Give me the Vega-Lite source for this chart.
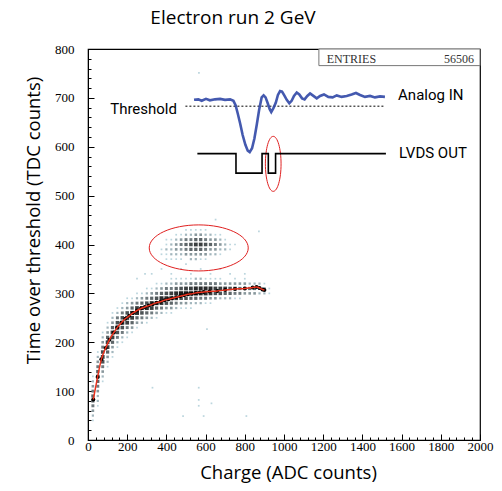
{
  "$schema": "https://vega.github.io/schema/vega-lite/v6.json",
  "width": 392,
  "height": 391,
  "autosize": {"type": "none"},
  "padding": {"left": 88, "top": 49, "right": 22, "bottom": 51},
  "background": "white",
  "title": {"text": "Electron run 2 GeV", "font": "Open Sans", "fontSize": 19, "fontWeight": "normal", "color": "black", "anchor": "middle", "frame": "group", "dx": -51, "offset": 15},
  "config": {
    "view": {"stroke": "black", "strokeWidth": 1.2},
    "axis": {"labelFont": "Liberation Serif, Times New Roman, serif", "labelFontSize": 13, "labelColor": "black", "titleFont": "Open Sans", "titleFontSize": 18.5, "titleFontWeight": "normal", "titleColor": "black", "domainColor": "black", "tickColor": "black", "grid": false, "labelFlush": false, "labelOverlap": false}
  },
  "datasets": {
    "dens": [
      {"x":25,"y":40,"n":1},{"x":25,"y":50,"n":2},{"x":25,"y":60,"n":3},{"x":25,"y":70,"n":4},{"x":25,"y":80,"n":5},{"x":25,"y":90,"n":5},{"x":25,"y":100,"n":4},{"x":25,"y":110,"n":3},{"x":25,"y":120,"n":2},{"x":25,"y":130,"n":1},
      {"x":50,"y":70,"n":1},{"x":50,"y":80,"n":2},{"x":50,"y":90,"n":2},{"x":50,"y":100,"n":3},{"x":50,"y":110,"n":4},{"x":50,"y":120,"n":5},{"x":50,"y":130,"n":6},{"x":50,"y":140,"n":5},{"x":50,"y":150,"n":4},{"x":50,"y":160,"n":3},{"x":50,"y":170,"n":2},{"x":50,"y":180,"n":1},
      {"x":75,"y":120,"n":1},{"x":75,"y":130,"n":2},{"x":75,"y":140,"n":3},{"x":75,"y":150,"n":4},{"x":75,"y":160,"n":6},{"x":75,"y":170,"n":7},{"x":75,"y":180,"n":6},{"x":75,"y":190,"n":4},{"x":75,"y":200,"n":3},{"x":75,"y":210,"n":2},{"x":75,"y":220,"n":1},
      {"x":100,"y":150,"n":1},{"x":100,"y":160,"n":2},{"x":100,"y":170,"n":3},{"x":100,"y":180,"n":5},{"x":100,"y":190,"n":7},{"x":100,"y":200,"n":7},{"x":100,"y":210,"n":5},{"x":100,"y":220,"n":3},{"x":100,"y":230,"n":2},{"x":100,"y":240,"n":1},
      {"x":125,"y":170,"n":1},{"x":125,"y":180,"n":2},{"x":125,"y":190,"n":3},{"x":125,"y":200,"n":5},{"x":125,"y":210,"n":7},{"x":125,"y":220,"n":7},{"x":125,"y":230,"n":5},{"x":125,"y":240,"n":3},{"x":125,"y":250,"n":2},{"x":125,"y":260,"n":1},
      {"x":150,"y":190,"n":1},{"x":150,"y":200,"n":2},{"x":150,"y":210,"n":4},{"x":150,"y":220,"n":6},{"x":150,"y":230,"n":8},{"x":150,"y":240,"n":6},{"x":150,"y":250,"n":4},{"x":150,"y":260,"n":2},{"x":150,"y":270,"n":1},
      {"x":175,"y":200,"n":1},{"x":175,"y":210,"n":2},{"x":175,"y":220,"n":4},{"x":175,"y":230,"n":6},{"x":175,"y":240,"n":8},{"x":175,"y":250,"n":6},{"x":175,"y":260,"n":4},{"x":175,"y":270,"n":2},{"x":175,"y":280,"n":1},
      {"x":200,"y":210,"n":1},{"x":200,"y":220,"n":2},{"x":200,"y":230,"n":4},{"x":200,"y":240,"n":7},{"x":200,"y":250,"n":8},{"x":200,"y":260,"n":6},{"x":200,"y":270,"n":3},{"x":200,"y":280,"n":2},{"x":200,"y":290,"n":1},
      {"x":225,"y":220,"n":1},{"x":225,"y":230,"n":3},{"x":225,"y":240,"n":5},{"x":225,"y":250,"n":7},{"x":225,"y":260,"n":8},{"x":225,"y":270,"n":5},{"x":225,"y":280,"n":3},{"x":225,"y":290,"n":1},
      {"x":250,"y":230,"n":1},{"x":250,"y":240,"n":3},{"x":250,"y":250,"n":5},{"x":250,"y":260,"n":8},{"x":250,"y":270,"n":7},{"x":250,"y":280,"n":4},{"x":250,"y":290,"n":2},{"x":250,"y":300,"n":1},
      {"x":275,"y":240,"n":2},{"x":275,"y":250,"n":4},{"x":275,"y":260,"n":6},{"x":275,"y":270,"n":8},{"x":275,"y":280,"n":5},{"x":275,"y":290,"n":3},{"x":275,"y":300,"n":1},
      {"x":300,"y":240,"n":1},{"x":300,"y":250,"n":3},{"x":300,"y":260,"n":5},{"x":300,"y":270,"n":8},{"x":300,"y":280,"n":6},{"x":300,"y":290,"n":4},{"x":300,"y":300,"n":2},{"x":300,"y":310,"n":1},
      {"x":325,"y":250,"n":2},{"x":325,"y":260,"n":4},{"x":325,"y":270,"n":7},{"x":325,"y":280,"n":8},{"x":325,"y":290,"n":5},{"x":325,"y":300,"n":3},{"x":325,"y":310,"n":1},
      {"x":350,"y":250,"n":1},{"x":350,"y":260,"n":3},{"x":350,"y":270,"n":5},{"x":350,"y":280,"n":8},{"x":350,"y":290,"n":6},{"x":350,"y":300,"n":4},{"x":350,"y":310,"n":2},{"x":350,"y":320,"n":1},
      {"x":375,"y":260,"n":2},{"x":375,"y":270,"n":4},{"x":375,"y":280,"n":7},{"x":375,"y":290,"n":8},{"x":375,"y":300,"n":5},{"x":375,"y":310,"n":3},{"x":375,"y":320,"n":1},
      {"x":400,"y":260,"n":1},{"x":400,"y":270,"n":3},{"x":400,"y":280,"n":6},{"x":400,"y":290,"n":8},{"x":400,"y":300,"n":6},{"x":400,"y":310,"n":4},{"x":400,"y":320,"n":2},
      {"x":425,"y":260,"n":1},{"x":425,"y":270,"n":3},{"x":425,"y":280,"n":5},{"x":425,"y":290,"n":8},{"x":425,"y":300,"n":7},{"x":425,"y":310,"n":4},{"x":425,"y":320,"n":2},{"x":425,"y":330,"n":1},
      {"x":450,"y":270,"n":2},{"x":450,"y":280,"n":4},{"x":450,"y":290,"n":7},{"x":450,"y":300,"n":8},{"x":450,"y":310,"n":5},{"x":450,"y":320,"n":3},{"x":450,"y":330,"n":1},
      {"x":475,"y":270,"n":1},{"x":475,"y":280,"n":3},{"x":475,"y":290,"n":6},{"x":475,"y":300,"n":9},{"x":475,"y":310,"n":6},{"x":475,"y":320,"n":3},{"x":475,"y":330,"n":1},
      {"x":500,"y":270,"n":1},{"x":500,"y":280,"n":3},{"x":500,"y":290,"n":6},{"x":500,"y":300,"n":9},{"x":500,"y":310,"n":7},{"x":500,"y":320,"n":3},{"x":500,"y":330,"n":1},
      {"x":525,"y":270,"n":1},{"x":525,"y":280,"n":2},{"x":525,"y":290,"n":5},{"x":525,"y":300,"n":9},{"x":525,"y":310,"n":7},{"x":525,"y":320,"n":4},{"x":525,"y":330,"n":1},
      {"x":550,"y":280,"n":2},{"x":550,"y":290,"n":5},{"x":550,"y":300,"n":9},{"x":550,"y":310,"n":8},{"x":550,"y":320,"n":4},{"x":550,"y":330,"n":2},
      {"x":575,"y":280,"n":2},{"x":575,"y":290,"n":4},{"x":575,"y":300,"n":8},{"x":575,"y":310,"n":8},{"x":575,"y":320,"n":4},{"x":575,"y":330,"n":2},
      {"x":600,"y":280,"n":1},{"x":600,"y":290,"n":4},{"x":600,"y":300,"n":8},{"x":600,"y":310,"n":8},{"x":600,"y":320,"n":4},{"x":600,"y":330,"n":1},
      {"x":625,"y":280,"n":1},{"x":625,"y":290,"n":3},{"x":625,"y":300,"n":7},{"x":625,"y":310,"n":8},{"x":625,"y":320,"n":4},{"x":625,"y":330,"n":1},
      {"x":650,"y":290,"n":3},{"x":650,"y":300,"n":6},{"x":650,"y":310,"n":7},{"x":650,"y":320,"n":4},{"x":650,"y":330,"n":1},
      {"x":675,"y":290,"n":2},{"x":675,"y":300,"n":6},{"x":675,"y":310,"n":7},{"x":675,"y":320,"n":3},{"x":675,"y":330,"n":1},
      {"x":700,"y":290,"n":2},{"x":700,"y":300,"n":5},{"x":700,"y":310,"n":7},{"x":700,"y":320,"n":3},
      {"x":725,"y":290,"n":2},{"x":725,"y":300,"n":5},{"x":725,"y":310,"n":6},{"x":725,"y":320,"n":3},
      {"x":750,"y":290,"n":1},{"x":750,"y":300,"n":4},{"x":750,"y":310,"n":6},{"x":750,"y":320,"n":3},{"x":750,"y":330,"n":1},
      {"x":775,"y":290,"n":1},{"x":775,"y":300,"n":4},{"x":775,"y":310,"n":5},{"x":775,"y":320,"n":3},
      {"x":800,"y":300,"n":3},{"x":800,"y":310,"n":5},{"x":800,"y":320,"n":3},{"x":800,"y":330,"n":1},
      {"x":825,"y":300,"n":3},{"x":825,"y":310,"n":5},{"x":825,"y":320,"n":2},
      {"x":850,"y":300,"n":3},{"x":850,"y":310,"n":5},{"x":850,"y":320,"n":2},
      {"x":875,"y":300,"n":2},{"x":875,"y":310,"n":4},{"x":875,"y":320,"n":2},
      {"x":900,"y":300,"n":2},{"x":900,"y":310,"n":3},{"x":900,"y":320,"n":1},
      {"x":925,"y":300,"n":1},{"x":925,"y":310,"n":1},
      {"x":375,"y":380,"n":1},{"x":375,"y":390,"n":1},
      {"x":400,"y":370,"n":1},{"x":400,"y":380,"n":1},{"x":400,"y":390,"n":2},{"x":400,"y":400,"n":1},{"x":400,"y":410,"n":1},
      {"x":425,"y":370,"n":1},{"x":425,"y":380,"n":2},{"x":425,"y":390,"n":2},{"x":425,"y":400,"n":2},{"x":425,"y":410,"n":1},
      {"x":450,"y":370,"n":1},{"x":450,"y":380,"n":2},{"x":450,"y":390,"n":3},{"x":450,"y":400,"n":3},{"x":450,"y":410,"n":2},{"x":450,"y":420,"n":1},
      {"x":475,"y":370,"n":1},{"x":475,"y":380,"n":2},{"x":475,"y":390,"n":3},{"x":475,"y":400,"n":4},{"x":475,"y":410,"n":3},{"x":475,"y":420,"n":1},
      {"x":500,"y":360,"n":1},{"x":500,"y":380,"n":3},{"x":500,"y":390,"n":4},{"x":500,"y":400,"n":5},{"x":500,"y":410,"n":4},{"x":500,"y":420,"n":2},{"x":500,"y":430,"n":1},
      {"x":525,"y":370,"n":2},{"x":525,"y":380,"n":3},{"x":525,"y":390,"n":5},{"x":525,"y":400,"n":6},{"x":525,"y":410,"n":4},{"x":525,"y":420,"n":2},{"x":525,"y":430,"n":1},
      {"x":550,"y":370,"n":2},{"x":550,"y":380,"n":3},{"x":550,"y":390,"n":5},{"x":550,"y":400,"n":7},{"x":550,"y":410,"n":5},{"x":550,"y":420,"n":3},{"x":550,"y":430,"n":1},
      {"x":575,"y":370,"n":1},{"x":575,"y":380,"n":3},{"x":575,"y":390,"n":5},{"x":575,"y":400,"n":7},{"x":575,"y":410,"n":5},{"x":575,"y":420,"n":3},{"x":575,"y":430,"n":1},
      {"x":600,"y":370,"n":1},{"x":600,"y":380,"n":3},{"x":600,"y":390,"n":4},{"x":600,"y":400,"n":6},{"x":600,"y":410,"n":4},{"x":600,"y":420,"n":2},{"x":600,"y":430,"n":1},
      {"x":625,"y":380,"n":2},{"x":625,"y":390,"n":3},{"x":625,"y":400,"n":5},{"x":625,"y":410,"n":3},{"x":625,"y":420,"n":2},
      {"x":650,"y":380,"n":2},{"x":650,"y":390,"n":3},{"x":650,"y":400,"n":4},{"x":650,"y":410,"n":3},{"x":650,"y":420,"n":1},
      {"x":675,"y":380,"n":1},{"x":675,"y":390,"n":2},{"x":675,"y":400,"n":3},{"x":675,"y":410,"n":2},{"x":675,"y":420,"n":1},
      {"x":700,"y":390,"n":2},{"x":700,"y":400,"n":2},{"x":700,"y":410,"n":1},
      {"x":725,"y":390,"n":1},{"x":725,"y":400,"n":1},{"x":750,"y":400,"n":1},
      {"x":325,"y":340,"n":1},{"x":375,"y":350,"n":1},{"x":425,"y":340,"n":1},{"x":475,"y":350,"n":1},{"x":525,"y":340,"n":1},{"x":575,"y":350,"n":1},{"x":625,"y":340,"n":1},{"x":675,"y":350,"n":1},{"x":725,"y":340,"n":1},{"x":800,"y":340,"n":1},
      {"x":607,"y":227,"n":1},{"x":329,"y":107,"n":1},{"x":565,"y":107,"n":1},{"x":565,"y":82,"n":1},{"x":565,"y":70,"n":1},{"x":630,"y":75,"n":1},{"x":485,"y":49,"n":1},{"x":590,"y":49,"n":1},{"x":808,"y":49,"n":1},{"x":566,"y":751,"n":1},{"x":651,"y":451,"n":1},{"x":872,"y":427,"n":1},{"x":291,"y":340,"n":1},{"x":250,"y":330,"n":1}
    ],
    "curve": [
      {"x":27,"y":83},{"x":49,"y":129},{"x":68,"y":165},{"x":90,"y":188},{"x":109,"y":205},{"x":132,"y":220},{"x":149,"y":230},{"x":170,"y":240},{"x":190,"y":248},{"x":210,"y":254},{"x":230,"y":260},{"x":250,"y":265},{"x":270,"y":269},{"x":290,"y":272},{"x":310,"y":275},{"x":330,"y":278},{"x":350,"y":281},{"x":370,"y":283},{"x":390,"y":286},{"x":410,"y":288},{"x":430,"y":290},{"x":450,"y":292},{"x":470,"y":294},{"x":490,"y":296},{"x":510,"y":298},{"x":530,"y":299},{"x":550,"y":301},{"x":570,"y":302},{"x":590,"y":303},{"x":620,"y":304},{"x":660,"y":305},{"x":700,"y":307},{"x":750,"y":309},{"x":800,"y":310},{"x":840,"y":312},{"x":860,"y":313},{"x":875,"y":311},{"x":890,"y":308},{"x":900,"y":307}
    ],
    "wave": [
      {"x":541,"y":696},{"x":563,"y":697},{"x":580,"y":694},{"x":602,"y":698},{"x":622,"y":695},{"x":648,"y":697},{"x":674,"y":698},{"x":699,"y":696},{"x":725,"y":697},{"x":742,"y":694},{"x":753,"y":685},{"x":764,"y":668},{"x":776,"y":648},{"x":789,"y":624},{"x":803,"y":604},{"x":815,"y":592},{"x":825,"y":589},{"x":837,"y":597},{"x":849,"y":617},{"x":861,"y":645},{"x":873,"y":675},{"x":886,"y":701},{"x":896,"y":705},{"x":906,"y":701},{"x":917,"y":689},{"x":927,"y":677},{"x":935,"y":671},{"x":946,"y":679},{"x":958,"y":690},{"x":969,"y":706},{"x":980,"y":714},{"x":990,"y":713},{"x":1000,"y":706},{"x":1014,"y":696},{"x":1027,"y":689},{"x":1039,"y":694},{"x":1051,"y":704},{"x":1065,"y":711},{"x":1078,"y":707},{"x":1092,"y":699},{"x":1105,"y":697},{"x":1119,"y":704},{"x":1133,"y":709},{"x":1150,"y":704},{"x":1167,"y":699},{"x":1184,"y":704},{"x":1204,"y":707},{"x":1226,"y":702},{"x":1248,"y":701},{"x":1269,"y":705},{"x":1294,"y":702},{"x":1320,"y":704},{"x":1345,"y":707},{"x":1367,"y":710},{"x":1388,"y":706},{"x":1413,"y":702},{"x":1439,"y":704},{"x":1464,"y":701},{"x":1490,"y":703},{"x":1515,"y":702}
    ],
    "lvds": [
      {"i":0,"x":558,"y":586},{"i":1,"x":755,"y":586},{"i":2,"x":755,"y":546},{"i":3,"x":888,"y":546},{"i":4,"x":888,"y":586},{"i":5,"x":920,"y":586},{"i":6,"x":920,"y":546},{"i":7,"x":957,"y":546},{"i":8,"x":957,"y":586},{"i":9,"x":1520,"y":586}
    ]
  },
  "encoding": {
    "x": {"field": "x", "type": "quantitative", "scale": {"domain": [0, 2000], "nice": false, "zero": false},
      "title": "Charge (ADC counts)",
      "axis": {"values": [0,40,80,120,160,200,240,280,320,360,400,440,480,520,560,600,640,680,720,760,800,840,880,920,960,1000,1040,1080,1120,1160,1200,1240,1280,1320,1360,1400,1440,1480,1520,1560,1600,1640,1680,1720,1760,1800,1840,1880,1920,1960,2000],
        "format": "d", "labelFont": "Liberation Serif, Times New Roman, serif", "labelFontSize": 13,
        "labelExpr": "datum.value % 200 === 0 ? datum.label : ''",
        "tickSize": {"condition": {"test": "datum.value % 200 === 0", "value": -6}, "value": -3},
        "labelPadding": 6, "titleX": 200, "titleY": 32, "titleBaseline": "middle"}},
    "y": {"field": "y", "type": "quantitative", "scale": {"domain": [0, 800], "nice": false, "zero": false},
      "title": "Time over threshold (TDC counts)",
      "axis": {"values": [0,20,40,60,80,100,120,140,160,180,200,220,240,260,280,300,320,340,360,380,400,420,440,460,480,500,520,540,560,580,600,620,640,660,680,700,720,740,760,780,800],
        "format": "d", "labelFont": "Liberation Serif, Times New Roman, serif", "labelFontSize": 13,
        "labelExpr": "datum.value % 100 === 0 ? datum.label : ''",
        "tickSize": {"condition": {"test": "datum.value % 100 === 0", "value": -6}, "value": -3},
        "labelPadding": 20, "titleX": -55, "titleY": 171, "titleBaseline": "middle", "titleAlign": "center", "titleAngle": -90}}
  },
  "layer": [
    {"data": {"name": "dens"}, "mark": {"type": "square", "opacity": 1},
      "encoding": {
        "size": {"field": "n", "type": "quantitative", "scale": {"domain": [1, 9], "range": [3, 18]}, "legend": null},
        "color": {"field": "n", "type": "quantitative", "scale": {"domain": [1, 4, 9], "range": ["#bcd6de", "#707a7e", "#1a1a1a"]}, "legend": null}}},
    {"data": {"values": [{"x": 1178, "x2": 2000, "y": 766, "y2": 800}]}, "mark": {"type": "rect", "fill": "white", "stroke": "#777777", "strokeWidth": 1},
      "encoding": {"x2": {"field": "x2"}, "y2": {"field": "y2"}}},
    {"data": {"values": [{"x": 1218, "y": 780, "t": "ENTRIES"}]}, "mark": {"type": "text", "font": "Liberation Serif, Times New Roman, serif", "fontSize": 12, "align": "left", "baseline": "middle", "color": "#333333"},
      "encoding": {"text": {"field": "t"}}},
    {"data": {"values": [{"x": 1969, "y": 780, "t": "56506"}]}, "mark": {"type": "text", "font": "Liberation Serif, Times New Roman, serif", "fontSize": 12, "align": "right", "baseline": "middle", "color": "#333333"},
      "encoding": {"text": {"field": "t"}}},
    {"data": {"name": "curve"}, "mark": {"type": "circle", "color": "black", "size": 16, "opacity": 1}},
    {"data": {"name": "curve"}, "mark": {"type": "line", "color": "#e8321e", "strokeWidth": 1.5, "interpolate": "monotone"}},
    {"data": {"values": [{"x": 565, "y": 393}]}, "mark": {"type": "point", "shape": "M-1,0A1,0.465,0,1,0,1,0A1,0.465,0,1,0,-1,0", "size": 9801, "filled": false, "stroke": "#e02020", "strokeWidth": 1, "opacity": 1}},
    {"data": {"values": [{"x": 945, "y": 565}]}, "mark": {"type": "point", "shape": "M0,-1A0.285,1,0,1,0,0,1A0.285,1,0,1,0,0,-1", "size": 3025, "filled": false, "stroke": "#e02020", "strokeWidth": 1, "opacity": 1}},
    {"data": {"values": [{"x": 497, "y": 683}, {"x": 1512, "y": 683}]}, "mark": {"type": "line", "color": "black", "strokeWidth": 1, "strokeDash": [2, 2]}},
    {"data": {"name": "wave"}, "mark": {"type": "line", "color": "#3047a6", "strokeWidth": 2.6, "opacity": 0.9}},
    {"data": {"name": "lvds"}, "mark": {"type": "line", "color": "black", "strokeWidth": 1.6}, "encoding": {"order": {"field": "i", "type": "quantitative"}}},
    {"data": {"values": [{"x": 1582, "y": 706, "t": "Analog IN"}, {"x": 1587, "y": 587, "t": "LVDS OUT"}]}, "mark": {"type": "text", "font": "Roboto", "fontSize": 15, "align": "left", "baseline": "middle", "color": "black"},
      "encoding": {"text": {"field": "t"}}},
    {"data": {"values": [{"x": 454, "y": 677, "t": "Threshold"}]}, "mark": {"type": "text", "font": "Roboto", "fontSize": 15, "align": "right", "baseline": "middle", "color": "black"},
      "encoding": {"text": {"field": "t"}}}
  ]
}
